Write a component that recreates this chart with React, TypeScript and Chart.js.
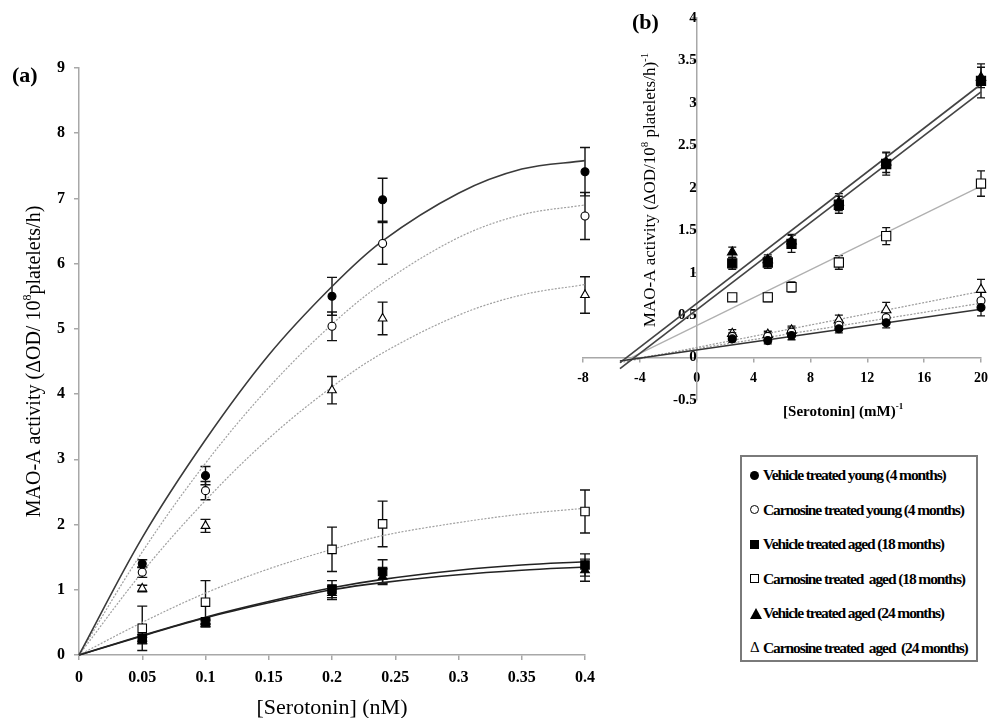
import React, { useEffect, useRef } from "react";
import { Chart, registerables } from "chart.js";

Chart.register(...registerables);

const SERIF = "'Liberation Serif', 'Times New Roman', Times, serif";

// ---------- Panel (a): MAO-A activity vs [Serotonin] (nM) ----------
const aConc = [0.05, 0.1, 0.2, 0.24, 0.4];
const aVehYoung = [1.4, 2.75, 5.5, 6.98, 7.41];
const aVehYoungErr = [0.06, 0.14, 0.29, 0.33, 0.37];
const aCarYoung = [1.27, 2.52, 5.04, 6.31, 6.73];
const aCarYoungErr = [0.08, 0.14, 0.22, 0.32, 0.36];
const aVehAged18 = [0.26, 0.51, 1.01, 1.28, 1.38];
const aVehAged18Err = [0.05, 0.04, 0.13, 0.18, 0.17];
const aCarAged18 = [0.41, 0.81, 1.62, 2.01, 2.2];
const aCarAged18Err = [0.34, 0.33, 0.34, 0.35, 0.33];
const aVehAged24 = [0.22, 0.48, 0.95, 1.2, 1.3];
const aVehAged24Err = [0.05, 0.05, 0.1, 0.12, 0.17];
const aCarAged24 = [1.02, 1.98, 4.06, 5.16, 5.52];
const aCarAged24Err = [0.05, 0.1, 0.21, 0.25, 0.28];

const aFitConc = [0, 0.05, 0.1, 0.15, 0.2, 0.24, 0.3, 0.35, 0.4];
const aFitVehYoung = [0, 1.8, 3.3, 4.6, 5.65, 6.35, 7.08, 7.45, 7.58];
const aFitCarYoung = [0, 1.58, 2.94, 4.1, 5.07, 5.7, 6.4, 6.75, 6.9];
const aFitVehAged18 = [0, 0.3, 0.58, 0.82, 1.03, 1.16, 1.3, 1.38, 1.43];
const aFitCarAged18 = [0, 0.5, 0.95, 1.32, 1.62, 1.83, 2.03, 2.16, 2.25];
const aFitVehAged24 = [0, 0.29, 0.57, 0.8, 1.0, 1.11, 1.23, 1.3, 1.35];
const aFitCarAged24 = [0, 1.27, 2.37, 3.32, 4.11, 4.63, 5.21, 5.52, 5.68];

// ---------- Panel (b): double reciprocal plot ----------
const bInvConc = [2.5, 5, 6.67, 10, 13.33, 20];
const bVehYoung = [0.22, 0.2, 0.26, 0.34, 0.41, 0.59];
const bVehYoungErr = [0.04, 0.04, 0.05, 0.05, 0.06, 0.1];
const bCarYoung = [0.25, 0.25, 0.3, 0.38, 0.47, 0.67];
const bCarYoungErr = [0.04, 0.04, 0.05, 0.06, 0.07, 0.1];
const bVehAged18 = [1.11, 1.12, 1.34, 1.8, 2.28, 3.26];
const bVehAged18Err = [0.07, 0.07, 0.1, 0.1, 0.13, 0.2];
const bCarAged18 = [0.71, 0.71, 0.83, 1.12, 1.43, 2.05];
const bCarAged18Err = [0.04, 0.05, 0.06, 0.08, 0.1, 0.15];
const bVehAged24 = [1.24, 1.15, 1.37, 1.83, 2.3, 3.3];
const bVehAged24Err = [0.06, 0.06, 0.08, 0.1, 0.12, 0.12];
const bCarAged24 = [0.28, 0.27, 0.32, 0.44, 0.56, 0.8];
const bCarAged24Err = [0.05, 0.04, 0.05, 0.06, 0.09, 0.12];

const bLineX = [-5.4, 20];
const bLineCarAged18X = [-4.6, 20];
const bLineVehYoung = [-0.04, 0.57];
const bLineCarYoung = [-0.04, 0.64];
const bLineVehAged18 = [-0.13, 3.13];
const bLineCarAged18 = [0.0, 2.02];
const bLineVehAged24 = [-0.06, 3.22];
const bLineCarAged24 = [-0.06, 0.78];

// ---------- Legend ----------
const legendLabels = [
  "Vehicle treated young (4 months)",
  "Carnosine treated young (4 months)",
  "Vehicle treated aged (18 months)",
  "Carnosine treated  aged (18 months)",
  "Vehicle treated aged (24 months)",
  "Carnosine treated  aged  (24 months)",
];
const legendMarkers = ["fcircle", "ocircle", "fsquare", "osquare", "ftri", "otri"];

const pts = (xs: number[], ys: number[]) => xs.map((x, i) => ({ x, y: ys[i] }));

type Part = { t: string; sup?: boolean };
type RichItem = {
  parts: Part[];
  size: number;
  weight?: string;
  rot?: number;
  align?: "center" | "left";
  at: (c: any) => [number, number];
};

function richTextPlugin(items: RichItem[]) {
  return {
    id: "richText",
    afterDraw(chart: any) {
      const ctx = chart.ctx as CanvasRenderingContext2D;
      for (const it of items) {
        const [x, y] = it.at(chart);
        ctx.save();
        ctx.translate(x, y);
        if (it.rot) ctx.rotate(it.rot);
        ctx.fillStyle = "#000";
        ctx.textBaseline = "alphabetic";
        ctx.textAlign = "left";
        const fonts = it.parts.map(
          (p) => `${it.weight || "normal"} ${p.sup ? Math.round(it.size * 0.62) : it.size}px ${SERIF}`
        );
        const widths = it.parts.map((p, i) => {
          ctx.font = fonts[i];
          return ctx.measureText(p.t).width;
        });
        const total = widths.reduce((a, b) => a + b, 0);
        let cx = it.align === "left" ? 0 : -total / 2;
        const base = it.size * 0.33;
        it.parts.forEach((p, i) => {
          ctx.font = fonts[i];
          ctx.fillText(p.t, cx, base + (p.sup ? -it.size * 0.42 : 0));
          cx += widths[i];
        });
        ctx.restore();
      }
    },
  };
}

function errorBarPlugin(cap: number, lw: number) {
  return {
    id: "errBars",
    beforeDatasetsDraw(chart: any) {
      const ctx = chart.ctx as CanvasRenderingContext2D;
      const xs = chart.scales.x;
      const ys = chart.scales.y;
      chart.data.datasets.forEach((ds: any) => {
        const err: number[] | undefined = ds.errors;
        if (!err) return;
        ctx.save();
        ctx.strokeStyle = "#111";
        ctx.lineWidth = lw;
        ds.data.forEach((p: any, j: number) => {
          const e = err[j];
          if (!e) return;
          const px = xs.getPixelForValue(p.x);
          const top = ys.getPixelForValue(p.y + e);
          const bot = ys.getPixelForValue(p.y - e);
          ctx.beginPath();
          ctx.moveTo(px, top);
          ctx.lineTo(px, bot);
          ctx.moveTo(px - cap, top);
          ctx.lineTo(px + cap, top);
          ctx.moveTo(px - cap, bot);
          ctx.lineTo(px + cap, bot);
          ctx.stroke();
        });
        ctx.restore();
      });
    },
  };
}

const markerStyle = (kind: string, sizes: { c: number; r: number; t: number }) => {
  const filled = kind[0] === "f";
  const shape = kind.slice(1);
  return {
    pointStyle: shape === "circle" ? "circle" : shape === "square" ? "rect" : "triangle",
    pointRadius: shape === "circle" ? sizes.c : shape === "square" ? sizes.r : sizes.t,
    pointBackgroundColor: filled ? "#000" : "#fff",
    pointBorderColor: "#000",
    pointBorderWidth: 1.1,
  };
};

const tickFont = (size: number) => ({ family: SERIF, weight: "bold" as const, size });
const fmt = (v: any) => `${+Number(v).toFixed(2)}`;

export default function App() {
  const refA = useRef<HTMLCanvasElement>(null);
  const refB = useRef<HTMLCanvasElement>(null);

  useEffect(() => {
    if (!refA.current || !refB.current) return;

    // ----- Panel (a) -----
    const aSizes = { c: 4, r: 6, t: 5 };
    const aSeries = [
      { d: aVehYoung, e: aVehYoungErr, m: "fcircle" },
      { d: aCarYoung, e: aCarYoungErr, m: "ocircle" },
      { d: aVehAged18, e: aVehAged18Err, m: "fsquare" },
      { d: aCarAged18, e: aCarAged18Err, m: "osquare" },
      { d: aVehAged24, e: aVehAged24Err, m: "ftri" },
      { d: aCarAged24, e: aCarAged24Err, m: "otri" },
    ];
    const aFits = [
      { d: aFitVehYoung, c: "#3a3a3a", w: 1.6, dash: [] as number[] },
      { d: aFitCarYoung, c: "#a0a0a0", w: 1.2, dash: [2, 1.5] },
      { d: aFitVehAged18, c: "#222", w: 1.6, dash: [] as number[] },
      { d: aFitCarAged18, c: "#a0a0a0", w: 1.2, dash: [2, 1.5] },
      { d: aFitVehAged24, c: "#222", w: 1.6, dash: [] as number[] },
      { d: aFitCarAged24, c: "#a0a0a0", w: 1.2, dash: [2, 1.5] },
    ];
    const aDatasets: any[] = [
      ...aSeries.map((s) => ({
        data: pts(aConc, s.d),
        errors: s.e,
        showLine: false,
        clip: false,
        ...markerStyle(s.m, aSizes),
      })),
      ...aFits.map((f) => ({
        data: pts(aFitConc, f.d),
        showLine: true,
        pointRadius: 0,
        borderColor: f.c,
        borderWidth: f.w,
        borderDash: f.dash,
        tension: 0.35,
        fill: false,
        clip: false,
      })),
    ];

    const axisGray = "#a8a8a8";
    const chartA = new Chart(refA.current, {
      type: "scatter",
      data: { datasets: aDatasets },
      options: {
        animation: false,
        responsive: false,
        events: [],
        layout: { padding: { top: 68, right: 35, left: 0, bottom: 0 } },
        plugins: { legend: { display: false }, tooltip: { enabled: false } },
        scales: {
          x: {
            type: "linear",
            min: 0,
            max: 0.4,
            afterFit: (s: any) => {
              s.height = 63;
            },
            ticks: {
              stepSize: 0.05,
              callback: fmt,
              font: tickFont(16),
              color: "#000",
              padding: 8,
              maxRotation: 0,
              autoSkip: false,
            },
            grid: { drawOnChartArea: false, drawTicks: true, tickLength: 5, color: axisGray, lineWidth: 1.5 },
            border: { color: axisGray, width: 1.5 },
          },
          y: {
            type: "linear",
            min: 0,
            max: 9,
            afterFit: (s: any) => {
              s.width = 79;
            },
            ticks: { stepSize: 1, callback: fmt, font: tickFont(16), color: "#000", padding: 9 },
            grid: { drawOnChartArea: false, drawTicks: true, tickLength: 5, color: axisGray, lineWidth: 1.5 },
            border: { color: axisGray, width: 1.5 },
          },
        },
      } as any,
      plugins: [
        errorBarPlugin(5, 1.4),
        richTextPlugin([
          {
            parts: [{ t: "MAO-A activity (ΔOD/ 10" }, { t: "8", sup: true }, { t: "platelets/h)" }],
            size: 20,
            rot: -Math.PI / 2,
            at: (c) => [c.chartArea.left - 46, (c.chartArea.top + c.chartArea.bottom) / 2],
          },
          {
            parts: [{ t: "[Serotonin] (nM)" }],
            size: 22,
            at: (c) => [(c.chartArea.left + c.chartArea.right) / 2, c.chartArea.bottom + 52],
          },
          { parts: [{ t: "(a)" }], size: 22, weight: "bold", align: "left", at: () => [12, 75] },
        ]),
      ],
    });

    // ----- Panel (b) -----
    const bSizes = { c: 4, r: 6.5, t: 5.5 };
    const bSeries = [
      { d: bVehYoung, e: bVehYoungErr, m: "fcircle" },
      { d: bCarYoung, e: bCarYoungErr, m: "ocircle" },
      { d: bVehAged18, e: bVehAged18Err, m: "fsquare" },
      { d: bCarAged18, e: bCarAged18Err, m: "osquare" },
      { d: bVehAged24, e: bVehAged24Err, m: "ftri" },
      { d: bCarAged24, e: bCarAged24Err, m: "otri" },
    ];
    const bLines = [
      { x: bLineX, d: bLineVehYoung, c: "#333", w: 1.6, dash: [] as number[] },
      { x: bLineX, d: bLineCarYoung, c: "#9a9a9a", w: 1.2, dash: [2, 1.5] },
      { x: bLineX, d: bLineVehAged18, c: "#444", w: 1.7, dash: [] as number[] },
      { x: bLineCarAged18X, d: bLineCarAged18, c: "#b0b0b0", w: 1.3, dash: [] as number[] },
      { x: bLineX, d: bLineVehAged24, c: "#444", w: 1.7, dash: [] as number[] },
      { x: bLineX, d: bLineCarAged24, c: "#9a9a9a", w: 1.2, dash: [2, 1.5] },
    ];
    const bDatasets: any[] = [
      ...bSeries.map((s) => ({
        data: pts(bInvConc, s.d),
        errors: s.e,
        showLine: false,
        clip: false,
        ...markerStyle(s.m, bSizes),
      })),
      ...bLines.map((l) => ({
        data: pts(l.x, l.d),
        showLine: true,
        pointRadius: 0,
        borderColor: l.c,
        borderWidth: l.w,
        borderDash: l.dash,
        fill: false,
        clip: false,
      })),
    ];

    const chartB = new Chart(refB.current, {
      type: "scatter",
      data: { datasets: bDatasets },
      options: {
        animation: false,
        responsive: false,
        events: [],
        layout: { padding: { top: 18, right: 14, left: 23, bottom: 40 } },
        plugins: { legend: { display: false }, tooltip: { enabled: false } },
        scales: {
          x: {
            type: "linear",
            min: -8,
            max: 20,
            position: { y: 0 },
            afterFit: (s: any) => {
              s.height = 0;
            },
            ticks: {
              stepSize: 4,
              callback: fmt,
              font: tickFont(14),
              color: "#000",
              padding: 8,
              maxRotation: 0,
              autoSkip: false,
            },
            grid: { drawOnChartArea: false, drawTicks: true, tickLength: 4, color: axisGray, lineWidth: 1.5 },
            border: { color: axisGray, width: 1.5 },
          },
          y: {
            type: "linear",
            min: -0.5,
            max: 4,
            position: { x: 0 },
            afterFit: (s: any) => {
              s.width = 0;
            },
            ticks: { stepSize: 0.5, callback: fmt, font: tickFont(15), color: "#000", padding: 6 },
            grid: { drawOnChartArea: false, drawTicks: true, tickLength: 4, color: axisGray, lineWidth: 1.5 },
            border: { color: axisGray, width: 1.5 },
          },
        },
      } as any,
      plugins: [
        errorBarPlugin(4, 1.3),
        richTextPlugin([
          {
            parts: [
              { t: "MAO-A activity (ΔOD/10" },
              { t: "8", sup: true },
              { t: " platelets/h)" },
              { t: "-1", sup: true },
            ],
            size: 17,
            rot: -Math.PI / 2,
            at: (c) => [c.scales.x.getPixelForValue(0) - 47, 190],
          },
          {
            parts: [{ t: "[Serotonin] (mM)" }, { t: "-1", sup: true }],
            size: 15,
            weight: "bold",
            at: (c) => [c.scales.x.getPixelForValue(10.3), c.scales.y.getPixelForValue(0) + 53],
          },
          { parts: [{ t: "(b)" }], size: 22, weight: "bold", align: "left", at: () => [72, 22] },
        ]),
      ],
    });

    return () => {
      chartA.destroy();
      chartB.destroy();
    };
  }, []);

  const marker = (kind: string) => {
    const base: React.CSSProperties = { display: "inline-block", boxSizing: "border-box", flex: "0 0 auto" };
    if (kind === "fcircle") return <span style={{ ...base, width: 9, height: 9, borderRadius: "50%", background: "#000" }} />;
    if (kind === "ocircle")
      return <span style={{ ...base, width: 9, height: 9, borderRadius: "50%", border: "1.2px solid #000" }} />;
    if (kind === "fsquare") return <span style={{ ...base, width: 9, height: 9, background: "#000" }} />;
    if (kind === "osquare") return <span style={{ ...base, width: 9, height: 9, border: "1.2px solid #000" }} />;
    if (kind === "ftri")
      return (
        <span
          style={{
            ...base,
            width: 0,
            height: 0,
            borderLeft: "6px solid transparent",
            borderRight: "6px solid transparent",
            borderBottom: "11px solid #000",
          }}
        />
      );
    return (
      <span style={{ ...base, fontSize: 15, lineHeight: "15px", fontFamily: SERIF, fontWeight: "normal" }}>Δ</span>
    );
  };

  return (
    <div
      style={{
        position: "absolute",
        left: 0,
        top: 0,
        width: 996,
        height: 718,
        background: "#fff",
        overflow: "hidden",
      }}
    >
      <canvas
        ref={refA}
        width={620}
        height={718}
        style={{ position: "absolute", left: 0, top: 0, width: 620, height: 718, display: "block" }}
      />
      <canvas
        ref={refB}
        width={436}
        height={440}
        style={{ position: "absolute", left: 560, top: 0, width: 436, height: 440, display: "block" }}
      />
      <div
        style={{
          position: "absolute",
          left: 740,
          top: 455,
          width: 238,
          height: 207,
          boxSizing: "border-box",
          border: "2px solid #7a7a7a",
          paddingTop: 1,
          paddingLeft: 8,
          fontFamily: SERIF,
          fontWeight: "bold",
          fontSize: 15.5,
          letterSpacing: -1.1,
          color: "#000",
        }}
      >
        {legendLabels.map((lab, i) => (
          <div key={i} style={{ height: 34.5, display: "flex", alignItems: "center", whiteSpace: "pre" }}>
            <span style={{ width: 13, display: "flex", justifyContent: "flex-start", alignItems: "center" }}>
              {marker(legendMarkers[i])}
            </span>
            <span>{lab}</span>
          </div>
        ))}
      </div>
    </div>
  );
}
